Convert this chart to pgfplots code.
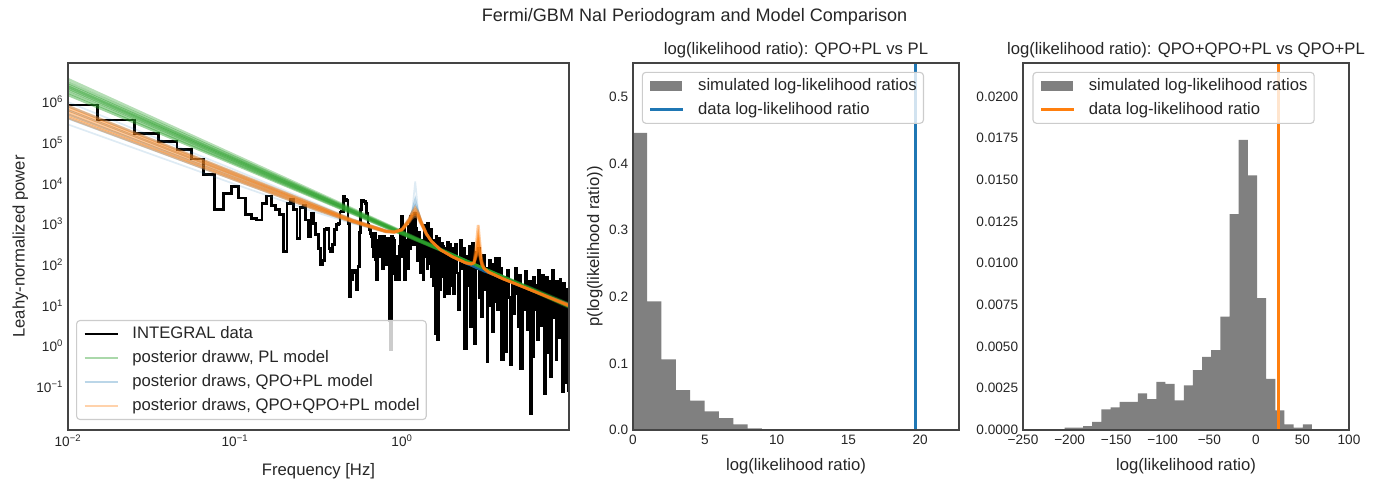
\documentclass[border=0pt]{standalone}
\usepackage{fontspec}
\setmainfont{Liberation Sans}
\usepackage{pgfplots}
\usepackage{pgfplotstable}
\pgfplotsset{compat=1.18}
\definecolor{tabblue}{HTML}{1F77B4}
\definecolor{taborange}{HTML}{FF7F0E}
\definecolor{tabgreen}{HTML}{2CA02C}
\definecolor{histgray}{HTML}{808080}
\definecolor{txt}{HTML}{262626}
\definecolor{spine}{HTML}{444444}
\definecolor{legframe}{HTML}{CCCCCC}

\pgfplotsset{
  every axis title shift=0pt,
  myaxis/.style={
    scale only axis, anchor=south west, height=264.24pt,
    axis on top,
    axis line style={draw=spine, line width=0.85pt},
    major tick length=0pt, minor tick length=0pt,
    scaled ticks=false,
    tick label style={font=\fontsize{9.8}{11.8}\selectfont, text=txt},
    label style={font=\fontsize{12}{14.4}\selectfont, text=txt},
    title style={font=\fontsize{12}{14.4}\selectfont, text=txt, at={(axis description cs:0.5,1)}, anchor=base, yshift=6.2pt},
    xlabel style={at={(axis description cs:0.5,0)}, anchor=base, yshift=-29.5pt},
    legend cell align=left,
    legend style={font=\fontsize{12}{14.4}\selectfont, text=txt, draw=legframe, line width=0.8pt,
      rounded corners=2.5pt, fill=white, fill opacity=0.8, text opacity=1,
      inner xsep=4.8pt, inner ysep=4.25pt, row sep=6.4pt, column sep=9.6pt,
      nodes={inner sep=0pt, text height=8.7pt, text depth=2.2pt}},
  },
  legline/.style={legend image code/.code={\draw[##1, sharp corners] (0pt,0pt) -- (23.8pt,0pt);}},
  leghist/.style={legend image code/.code={\fill[histgray, fill opacity=1, sharp corners] (0pt,-3.8pt) rectangle (23pt,3.8pt);}},
}

\pgfplotstableread{
e p
0.01 5.93
0.015 5.56
0.025 5.23
0.035 5.03
0.045 4.84
0.055 4.60
0.065 4.21
0.075 3.35
0.085 3.76
0.095 3.92
0.105 3.64
0.115 3.23
0.125 3.14
0.135 3.10
0.145 3.51
0.155 3.69
0.165 3.45
0.175 3.35
0.185 3.23
0.195 2.32
0.205 3.51
0.215 3.62
0.225 3.35
0.235 2.65
0.245 3.40
0.255 3.45
0.265 3.10
0.275 2.70
0.285 3.27
0.295 3.02
0.305 2.75
0.315 2.40
0.325 2.00
0.335 2.10
0.345 2.86
0.355 2.90
0.365 2.40
0.375 2.32
0.385 2.50
0.395 2.86
0.405 3.00
0.415 3.02
0.425 3.30
0.435 3.31
0.445 3.68
0.455 3.60
0.465 3.59
0.475 3.02
0.485 1.22
0.495 1.63
0.505 1.87
0.515 1.80
0.525 1.87
0.535 1.38
0.545 1.96
0.555 2.80
0.565 3.35
0.575 3.59
0.585 3.55
0.595 3.55
0.605 3.50
0.615 3.27
0.625 3.00
0.635 2.86
0.645 2.77
0.655 2.69
0.665 2.45
0.675 2.20
0.685 2.77
0.695 2.12
0.705 1.63
0.715 2.61
0.725 2.50
0.735 2.69
0.745 2.20
0.755 2.65
0.765 1.90
0.775 2.70
0.785 2.30
0.795 2.65
0.805 2.00
0.815 2.66
0.825 2.40
0.835 2.65
0.845 0.64
0.855 -0.09
0.865 2.69
0.875 2.60
0.885 2.65
0.895 2.61
0.905 1.79
0.915 1.63
0.925 2.20
0.935 1.96
0.945 1.87
0.955 1.63
0.965 2.45
0.975 2.86
0.985 3.10
0.995 3.18
1.005 2.20
1.020 2.90
1.035 1.63
1.050 2.30
1.065 2.60
1.080 1.90
1.095 2.94
1.110 2.40
1.125 3.18
1.140 2.70
1.155 3.05
1.170 2.50
1.185 3.27
1.200 2.90
1.215 2.86
1.230 2.10
1.245 2.20
1.260 2.80
1.275 2.45
1.290 1.80
1.305 2.00
1.320 2.60
1.335 1.63
1.350 2.30
1.365 2.98
1.380 2.20
1.395 2.70
1.410 1.90
1.425 3.02
1.440 2.50
1.455 2.04
1.470 2.60
1.485 2.86
1.500 1.70
1.515 2.30
1.530 2.60
1.545 1.50
1.560 2.20
1.575 0.32
1.590 2.40
1.605 2.69
1.620 1.80
1.635 0.15
1.650 2.30
1.665 2.65
1.680 1.90
1.695 1.40
1.710 2.35
1.725 2.53
1.740 1.70
1.755 1.90
1.770 2.45
1.785 1.22
1.800 2.10
1.815 2.40
1.830 1.60
1.845 1.30
1.860 2.20
1.875 2.55
1.890 1.80
1.905 1.30
1.920 2.30
1.935 2.50
1.950 1.50
1.965 1.70
1.975 2.40
2.025 1.30
2.075 2.50
2.125 1.80
2.175 0.89
2.225 2.61
2.275 1.90
2.325 2.40
2.375 -0.05
2.425 2.20
2.475 1.50
2.525 2.45
2.575 0.48
2.625 2.53
2.675 1.60
2.725 0.07
2.775 2.30
2.825 1.90
2.875 2.40
2.925 1.20
2.975 0.73
3.025 2.10
3.075 2.24
3.125 1.40
3.175 1.90
3.225 -0.38
3.275 1.70
3.325 2.10
3.375 1.00
3.425 1.80
3.475 0.36
3.525 2.00
3.575 1.50
3.625 2.15
3.675 1.10
3.725 0.89
3.775 2.16
3.825 1.60
3.875 1.90
3.925 0.90
3.95 -0.34
4.05 1.70
4.15 -0.13
4.25 1.87
4.35 1.20
4.45 -0.46
4.55 1.60
4.65 0.80
4.75 1.91
4.85 1.30
4.95 0.48
5.05 1.75
5.15 -0.54
5.25 1.40
5.35 0.90
5.45 1.83
5.55 1.10
5.65 0.40
5.75 1.60
5.85 -1.65
5.95 1.20
6.05 -0.26
6.15 1.70
6.25 0.90
6.35 1.50
6.45 0.15
6.55 1.87
6.65 1.00
6.75 1.60
6.85 0.50
6.95 1.75
7.05 0.80
7.15 -1.16
7.25 1.40
7.35 1.70
7.45 -0.17
7.55 1.20
7.65 1.60
7.75 -0.75
7.85 1.30
7.95 1.87
8.05 0.70
8.15 1.50
8.25 1.00
8.35 -0.34
8.45 1.60
8.55 0.90
8.65 1.40
8.75 0.20
8.85 1.65
8.95 1.00
9.05 1.30
9.15 -1.12
9.25 1.55
9.35 0.60
9.45 1.20
9.55 -0.90
9.65 1.40
9.75 0.30
9.85 -1.10
9.95 1.20
10.0 1.20
}\datatab

\pgfplotstableread{
f q1 q2 q3 q4 q5 q6 o1 o2 o3 o4 o5 o6
0.01 5.80 5.90 5.70 5.60 5.45 6.00 5.80 5.85 5.75 5.68 5.90 5.62
0.1 4.20 4.26 4.14 4.08 3.98 4.33 4.20 4.23 4.17 4.12 4.26 4.09
0.3 3.44 3.48 3.40 3.36 3.30 3.52 3.44 3.46 3.42 3.39 3.48 3.37
0.5 3.09 3.11 3.07 3.05 3.02 3.13 3.09 3.10 3.08 3.07 3.11 3.06
0.8 2.83 2.84 2.82 2.81 2.80 2.85 2.83 2.83 2.82 2.82 2.84 2.81
0.9 2.81 2.82 2.80 2.80 2.79 2.83 2.81 2.81 2.80 2.80 2.82 2.80
1.0 2.87 2.88 2.86 2.87 2.85 2.88 2.87 2.86 2.87 2.85 2.88 2.86
1.1 3.08 3.12 3.05 3.10 3.06 3.10 3.08 3.06 3.10 3.04 3.12 3.07
1.15 3.22 3.30 3.16 3.30 3.22 3.30 3.22 3.19 3.26 3.15 3.28 3.21
1.2 3.30 3.45 3.20 3.60 3.35 4.05 3.30 3.25 3.35 3.20 3.40 3.28
1.25 3.22 3.30 3.16 3.30 3.22 3.30 3.22 3.19 3.26 3.15 3.28 3.21
1.3 3.05 3.09 3.02 3.06 3.04 3.06 3.05 3.03 3.07 3.01 3.08 3.04
1.4 2.76 2.77 2.75 2.76 2.75 2.77 2.76 2.75 2.77 2.75 2.77 2.76
1.5 2.58 2.58 2.58 2.58 2.58 2.58 2.58 2.58 2.58 2.58 2.58 2.58
1.7 2.37 2.37 2.37 2.37 2.37 2.37 2.37 2.37 2.37 2.37 2.37 2.37
2.0 2.20 2.20 2.20 2.20 2.20 2.20 2.20 2.20 2.20 2.20 2.20 2.20
2.4 2.04 2.04 2.04 2.04 2.04 2.04 2.05 2.05 2.05 2.05 2.05 2.05
2.6 1.98 1.98 1.98 1.98 1.98 1.98 2.02 2.02 2.02 2.02 2.02 2.02
2.7 1.95 1.95 1.95 1.95 1.95 1.95 2.05 2.06 2.04 2.08 2.05 2.05
2.8 1.92 1.92 1.92 1.92 1.92 1.92 2.29 2.40 2.23 2.60 2.33 2.26
2.86 1.905 1.905 1.905 1.905 1.905 1.905 2.54 2.70 2.45 2.98 2.60 2.50
2.92 1.89 1.89 1.89 1.89 1.89 1.89 2.28 2.39 2.22 2.58 2.32 2.25
3.0 1.87 1.87 1.87 1.87 1.87 1.87 2.02 2.06 2.00 2.12 2.04 2.01
3.1 1.84 1.84 1.84 1.84 1.84 1.84 1.91 1.91 1.91 1.91 1.91 1.91
3.3 1.80 1.80 1.80 1.80 1.80 1.80 1.82 1.82 1.82 1.82 1.82 1.82
4 1.66 1.66 1.66 1.66 1.66 1.66 1.66 1.66 1.66 1.66 1.66 1.66
6 1.37 1.37 1.37 1.37 1.37 1.37 1.37 1.37 1.37 1.37 1.37 1.37
10 1.01 0.99 1.02 1.03 1.04 0.98 1.00 1.01 0.99 1.02 0.98 1.00
}\qpotab

\begin{document}
\begin{tikzpicture}
\useasboundingbox (0,0) rectangle (1000.08pt,348.48pt);

% ---------------- left panel ----------------
\begin{axis}[myaxis, at={(48.96pt,38.88pt)}, width=360.72pt,
  xmode=log, xmin=0.01, xmax=10, ymin=-2.06, ymax=6.96,
  xtick={0.01,0.1,1},
  xticklabels={10\textsuperscript{−2},10\textsuperscript{−1},10\textsuperscript{0}},
  ytick={-1,0,1,2,3,4,5,6},
  yticklabels={10\textsuperscript{−1},10\textsuperscript{0},10\textsuperscript{1},10\textsuperscript{2},10\textsuperscript{3},10\textsuperscript{4},10\textsuperscript{5},10\textsuperscript{6}},
  xlabel={Frequency [Hz]}, xlabel style={yshift=-2.9pt},
  ylabel={Leahy-normalized power},
  ylabel style={at={(axis description cs:-0.0868,0.5)}, anchor=base},
  legend style={at={(axis description cs:0.016,0.027)}, anchor=south west},
]
\addplot[black, line width=2pt, const plot mark left, legline] table[x=e, y=p] {\datatab};
\addlegendentry{INTEGRAL data}

\addplot[tabgreen, line width=1.6pt, opacity=0.4, legline] coordinates {(0.01,6.30) (10,1.00)};
\addlegendentry{posterior draww, PL model}
\addplot[tabgreen, line width=2pt, opacity=0.45, forget plot] coordinates {(0.01,6.18) (10,1.04)};
\addplot[tabgreen, line width=2pt, opacity=0.45, forget plot] coordinates {(0.01,6.24) (10,1.02)};
\addplot[tabgreen, line width=2pt, opacity=0.45, forget plot] coordinates {(0.01,6.34) (10,1.00)};
\addplot[tabgreen, line width=2pt, opacity=0.45, forget plot] coordinates {(0.01,6.38) (10,0.99)};
\addplot[tabgreen, line width=2pt, opacity=0.45, forget plot] coordinates {(0.01,6.42) (10,0.98)};
\addplot[tabgreen, line width=2pt, opacity=0.45, forget plot] coordinates {(0.01,6.48) (10,0.97)};
\addplot[tabgreen, line width=2pt, opacity=0.35, forget plot] coordinates {(0.01,6.56) (10,0.95)};

\addplot[tabblue, line width=1.5pt, opacity=0.3, legline] table[x=f, y=q1] {\qpotab};
\addlegendentry{posterior draws, QPO+PL model}
\addplot[tabblue, line width=1.5pt, opacity=0.3, forget plot] table[x=f, y=q2] {\qpotab};
\addplot[tabblue, line width=1.5pt, opacity=0.3, forget plot] table[x=f, y=q3] {\qpotab};
\addplot[tabblue, line width=1.5pt, opacity=0.3, forget plot] table[x=f, y=q4] {\qpotab};
\addplot[tabblue, line width=1.2pt, opacity=0.15, forget plot] table[x=f, y=q5] {\qpotab};
\addplot[tabblue, line width=1.2pt, opacity=0.15, forget plot] table[x=f, y=q6] {\qpotab};

\addplot[taborange, line width=1.6pt, opacity=0.35, legline] table[x=f, y=o1] {\qpotab};
\addlegendentry{posterior draws, QPO+QPO+PL model}
\addplot[taborange, line width=2pt, opacity=0.4, forget plot] table[x=f, y=o2] {\qpotab};
\addplot[taborange, line width=2pt, opacity=0.4, forget plot] table[x=f, y=o3] {\qpotab};
\addplot[taborange, line width=2pt, opacity=0.4, forget plot] table[x=f, y=o4] {\qpotab};
\addplot[taborange, line width=2pt, opacity=0.4, forget plot] table[x=f, y=o5] {\qpotab};
\addplot[taborange, line width=2pt, opacity=0.4, forget plot] table[x=f, y=o6] {\qpotab};
\end{axis}

% ---------------- middle panel ----------------
\begin{axis}[myaxis, at={(455.76pt,38.88pt)}, width=234.72pt,
  xmin=0, xmax=22.7, ymin=0, ymax=0.551,
  xtick={0,5,10,15,20}, xticklabels={0,5,10,15,20},
  ytick={0,0.1,0.2,0.3,0.4,0.5}, yticklabels={0.0,0.1,0.2,0.3,0.4,0.5},
  xlabel={log(likelihood ratio)},
  ylabel={p(log(likelihood ratio))},
  ylabel style={at={(axis description cs:-0.104,0.5)}, anchor=base},
  title={log(likelihood ratio): QPO+PL vs PL},
  legend style={at={(axis description cs:0.027,0.976)}, anchor=north west},
]
\addplot[ybar interval, fill=histgray, draw=none, leghist]
  coordinates {(-0.02,0.446) (0.98,0.193) (1.98,0.106) (2.98,0.060) (3.98,0.044) (4.98,0.028) (5.98,0.018) (6.98,0.0085) (7.98,0.0025) (8.98,0.0008) (9.98,0)};
\addlegendentry{simulated log-likelihood ratios}
\addplot[tabblue, line width=2pt, legline] coordinates {(19.68,0) (19.68,0.551)};
\addlegendentry{data log-likelihood ratio}
\end{axis}

% ---------------- right panel ----------------
\begin{axis}[myaxis, at={(736.56pt,38.88pt)}, width=234.72pt,
  xmin=-250, xmax=100, ymin=0, ymax=0.0220,
  xtick={-250,-200,-150,-100,-50,0,50,100},
  xticklabels={−250,−200,−150,−100,−50,0,50,100},
  ytick={0,0.0025,0.005,0.0075,0.01,0.0125,0.015,0.0175,0.02},
  yticklabels={0.0000,0.0025,0.0050,0.0075,0.0100,0.0125,0.0150,0.0175,0.0200},
  xlabel={log(likelihood ratio)},
  title={log(likelihood ratio): QPO+QPO+PL vs QPO+PL},
  legend style={at={(axis description cs:0.029,0.976)}, anchor=north west},
]
\addplot[ybar interval, fill=histgray, draw=none, leghist]
  coordinates {(-205.2,0.00014) (-195.37,0.00014) (-185.54,0.00024) (-175.71,0.00048)
  (-165.88,0.00124) (-156.05,0.00136) (-146.22,0.00169) (-136.39,0.00169) (-126.56,0.00219)
  (-116.73,0.00185) (-106.9,0.00289) (-97.07,0.00277) (-87.24,0.00177) (-77.41,0.00267)
  (-67.58,0.00359) (-57.75,0.00439) (-47.92,0.00479) (-38.09,0.00680) (-28.26,0.01294)
  (-18.43,0.01739) (-8.6,0.01527) (1.23,0.00790) (11.06,0.00307) (20.89,0.00118)
  (30.72,0.00034) (40.55,0.00014) (50.38,0.00034) (60.21,0.00003) (70.04,0.00003)
  (79.87,0.00003) (89.70,0.00003) (99.53,0)};
\addlegendentry{simulated log-likelihood ratios}
\addplot[taborange, line width=2pt, legline] coordinates {(24.7,0) (24.7,0.0220)};
\addlegendentry{data log-likelihood ratio}
\end{axis}

\node[anchor=base, font=\fontsize{13}{15.6}\selectfont, text=txt] at (500.04pt,333.1pt) {Fermi/GBM NaI Periodogram and Model Comparison};
\end{tikzpicture}
\end{document}
